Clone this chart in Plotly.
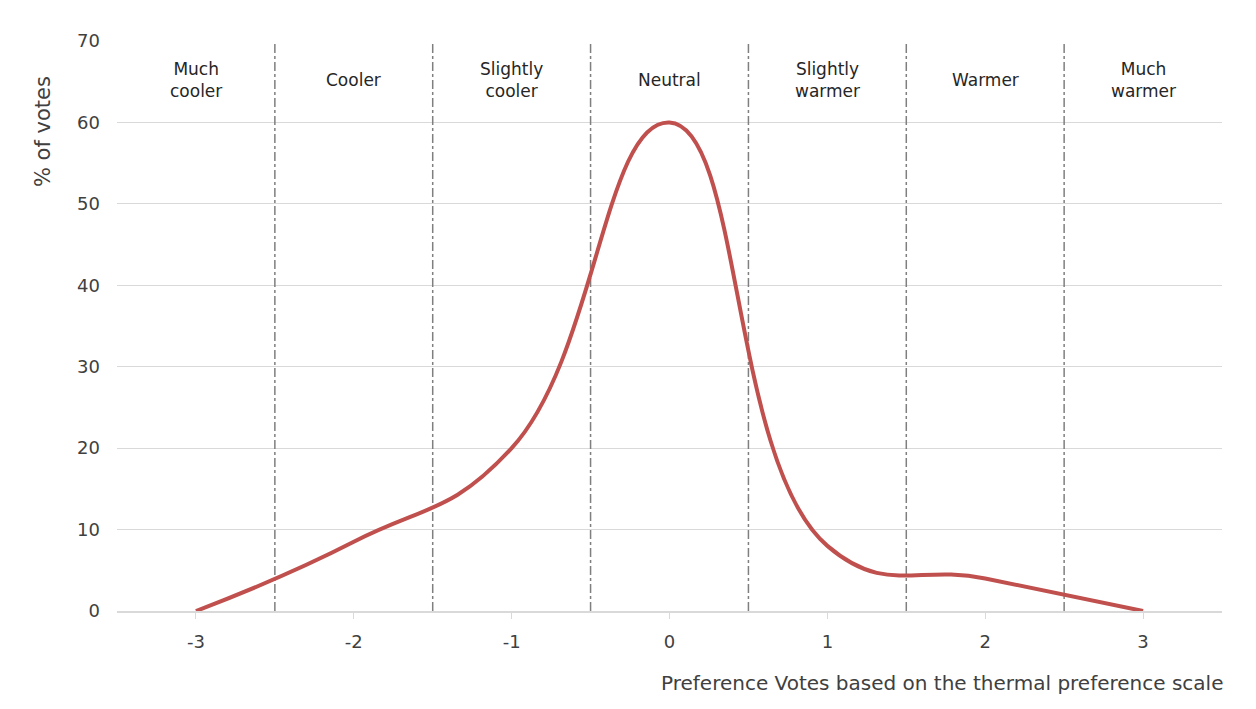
import plotly.graph_objects as go

votes = [-3, -2, -1, 0, 1, 2, 3]
vote_labels = ["-3", "-2", "-1", "0", "1", "2", "3"]
pct = [0, 8.5, 20, 60, 8, 4, 0]
boundaries = [-2.5, -1.5, -0.5, 0.5, 1.5, 2.5]
zone_x = [-3, -2, -1, 0, 1, 2, 3]
zone_labels = ["Much<br>cooler", "Cooler", "Slightly<br>cooler", "Neutral",
               "Slightly<br>warmer", "Warmer", "Much<br>warmer"]
y_ticks = [0, 10, 20, 30, 40, 50, 60, 70]

FONT = "DejaVu Sans"
TXT = "#404040"

fig = go.Figure()
for b in boundaries:
    fig.add_trace(go.Scatter(x=[b, b], y=[0, 70], mode="lines",
                             line=dict(color="#7f7f7f", width=1.5, dash="dashdot"),
                             hoverinfo="skip", showlegend=False))
fig.add_trace(go.Scatter(x=votes, y=pct, mode="lines",
                         line=dict(color="#C0504D", width=4, shape="spline", smoothing=1.3),
                         showlegend=False))

for x, t in zip(zone_x, zone_labels):
    fig.add_annotation(x=x, y=65.2, text=t, showarrow=False,
                       font=dict(family=FONT, size=17, color="#262626"),
                       xanchor="center", yanchor="middle")

fig.add_annotation(xref="paper", yref="paper", x=1.003, y=-0.126,
                   text="Preference Votes based on the thermal preference scale",
                   showarrow=False, xanchor="right", yanchor="middle",
                   font=dict(family=FONT, size=20, color=TXT))
fig.add_annotation(xref="paper", yref="paper", x=-0.067, y=0.842,
                   text="% of votes", textangle=-90, showarrow=False,
                   xanchor="center", yanchor="middle",
                   font=dict(family=FONT, size=21, color=TXT))

fig.update_layout(
    width=1248, height=701,
    margin=dict(l=109, r=34, t=33, b=98),
    plot_bgcolor="white", paper_bgcolor="white",
    font=dict(family=FONT, size=18, color=TXT),
    xaxis=dict(range=[-3.5, 3.5], tickvals=votes, ticktext=vote_labels,
               showgrid=False, zeroline=False,
               showline=True, linecolor="#d9d9d9", linewidth=1.5,
               ticks="outside", ticklen=6, tickcolor="#d9d9d9",
               ticklabelstandoff=8,
               tickfont=dict(family=FONT, size=18, color=TXT)),
    yaxis=dict(range=[0, 70], tickvals=y_ticks, showgrid=True, gridcolor="#d9d9d9",
               gridwidth=1.2, zeroline=False, showline=False, ticks="",
               ticklabelstandoff=16,
               tickfont=dict(family=FONT, size=18, color=TXT)),
)
fig.write_html("out.html")
